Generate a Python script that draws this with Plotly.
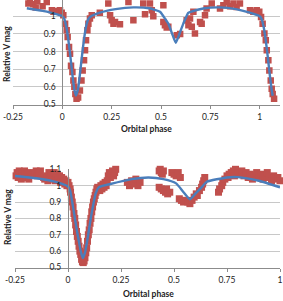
import plotly.graph_objects as go

# ---------------- data ----------------
x_ticks = [-0.25, 0, 0.25, 0.5, 0.75, 1]
x_tick_labels = ["-0.25", "0", "0.25", "0.5", "0.75", "1"]
y_ticks = [0.5, 0.6, 0.7, 0.8, 0.9, 1.0, 1.1]
y_tick_labels = ["0.5", "0.6", "0.7", "0.8", "0.9", "1", "1.1"]

# top panel observations
top_obs_x = [-0.172, -0.164, -0.147, -0.135, -0.127, -0.100, -0.079, -0.053, -0.045, -0.028,
             -0.012, -0.003, 0.005, 0.014, 0.022, 0.027, 0.034, 0.039, 0.044, 0.051,
             0.056, 0.061, 0.066, 0.072, 0.080, 0.089, 0.097, 0.103, 0.110, 0.115,
             0.120, 0.127, 0.132, 0.140, 0.149, 0.190, 0.233, 0.242, 0.250, 0.259,
             0.267, 0.292, 0.335, 0.360, 0.410, 0.419, 0.444, 0.453, 0.461, 0.512,
             0.512, 0.520, 0.529, 0.537, 0.580, 0.597, 0.630, 0.639, 0.647, 0.656,
             0.664, 0.672, 0.698, 0.706, 0.723, 0.731, 0.757, 0.799, 0.816, 0.833,
             0.850, 0.867, 0.883, 0.900, 0.951, 0.968, 0.985, 0.998, 1.007, 1.015,
             1.024, 1.031, 1.036, 1.044, 1.049, 1.056, 1.061, 1.066, 1.073]
top_obs_y = [1.072, 1.081, 1.068, 1.049, 1.085, 1.057, 1.080, 1.034, 1.025, 1.030,
             1.034, 1.020, 1.006, 0.958, 0.920, 0.883, 0.826, 0.788, 0.720, 0.684,
             0.636, 0.600, 0.560, 0.532, 0.540, 0.580, 0.636, 0.693, 0.750, 0.807,
             0.864, 0.920, 0.958, 0.987, 1.006, 1.020, 1.072, 1.006, 0.977, 0.958,
             0.968, 0.955, 1.081, 0.977, 1.072, 1.011, 1.072, 1.034, 1.000, 1.062,
             0.968, 0.949, 0.936, 0.940, 0.892, 0.900, 0.977, 0.949, 0.987, 0.940,
             1.025, 0.902, 0.968, 0.958, 1.006, 1.044, 1.072, 1.044, 1.062, 1.081,
             1.057, 1.072, 1.053, 1.072, 1.034, 1.025, 1.034, 1.025, 0.996, 0.958,
             0.902, 0.864, 0.807, 0.750, 0.693, 0.636, 0.589, 0.560, 0.532]

# top panel model
top_mod_x = [-0.18, -0.10, -0.03, 0.00, 0.01, 0.02, 0.03, 0.04, 0.05, 0.06, 0.069, 0.08,
             0.09, 0.10, 0.11, 0.12, 0.13, 0.14, 0.19, 0.27, 0.36, 0.44, 0.495, 0.515,
             0.537, 0.56, 0.575, 0.59, 0.613, 0.638, 0.65, 0.72, 0.80, 0.88, 0.95, 1.00,
             1.01, 1.02, 1.03, 1.04, 1.05, 1.06, 1.066]
top_mod_y = [1.045, 1.03, 1.012, 1.0, 0.985, 0.94, 0.87, 0.78, 0.68, 0.59, 0.55, 0.59,
             0.68, 0.78, 0.87, 0.94, 0.98, 0.995, 1.02, 1.04, 1.05, 1.045, 1.025, 0.995,
             0.958, 0.89, 0.85, 0.89, 0.958, 1.019, 1.025, 1.045, 1.05, 1.04, 1.02, 1.0,
             0.985, 0.94, 0.87, 0.78, 0.68, 0.59, 0.55]

# bottom panel observations
bot_obs_x = [-0.245, -0.24, -0.235, -0.23, -0.225, -0.22, -0.215, -0.21, -0.205, -0.20,
             -0.195, -0.19, -0.185,
             -0.16, -0.155, -0.15, -0.145, -0.14, -0.135, -0.13,
             -0.115, -0.11, -0.10, -0.095, -0.09, -0.085, -0.08, -0.075, -0.07, -0.065,
             -0.06, -0.055, -0.05, -0.045, -0.04, -0.035, -0.03, -0.025, -0.02, -0.015,
             -0.01, -0.005, 0.0, 0.005, 0.01,
             0.012, 0.016, 0.02, 0.024, 0.028, 0.032, 0.036, 0.04, 0.044, 0.048,
             0.052, 0.056, 0.06, 0.064, 0.068, 0.072, 0.076, 0.08, 0.084, 0.088,
             0.092, 0.096, 0.10, 0.104, 0.108, 0.112, 0.116, 0.12, 0.124, 0.128,
             0.132, 0.136,
             0.14, 0.15, 0.155, 0.16, 0.165, 0.17, 0.175, 0.18, 0.185,
             0.19, 0.195, 0.20, 0.205, 0.21, 0.215, 0.22, 0.225,
             0.28, 0.29, 0.30, 0.31, 0.32, 0.33, 0.34,
             0.43, 0.435, 0.44, 0.445, 0.45,
             0.43, 0.44, 0.45, 0.46, 0.465, 0.47, 0.48,
             0.49, 0.50, 0.51, 0.52, 0.53,
             0.525, 0.535, 0.545, 0.555, 0.565, 0.575, 0.585,
             0.595, 0.605, 0.61, 0.62, 0.63, 0.635, 0.64, 0.645,
             0.71, 0.715,
             0.725, 0.73, 0.74, 0.75, 0.755, 0.76, 0.77, 0.78, 0.785, 0.79, 0.80, 0.81,
             0.82, 0.83, 0.84, 0.85, 0.86, 0.87, 0.88, 0.89, 0.90, 0.91, 0.92, 0.93,
             0.94, 0.95, 0.96, 0.97, 0.98, 0.99, 1.0]
bot_obs_y = [1.06, 1.08, 1.05, 1.09, 1.07, 1.04, 1.08, 1.06, 1.09, 1.05,
             1.07, 1.08, 1.04,
             1.08, 1.07, 1.09, 1.06, 1.08, 1.07, 1.09,
             1.05, 1.04, 1.06, 1.03, 1.08, 1.05, 1.07, 1.04, 1.06, 1.08,
             1.03, 1.05, 1.07, 1.04, 1.06, 1.02, 1.05, 1.03, 1.04, 1.01,
             1.03, 1.00, 1.02, 1.00, 0.98,
             0.96, 0.93, 0.90, 0.87, 0.83, 0.80, 0.76, 0.72, 0.69, 0.66,
             0.63, 0.60, 0.58, 0.55, 0.535, 0.53, 0.54, 0.56, 0.59, 0.62,
             0.66, 0.70, 0.73, 0.77, 0.80, 0.84, 0.87, 0.90, 0.92, 0.94,
             0.96, 0.98,
             0.99, 0.97, 1.00, 0.98, 1.01, 0.99, 1.02, 1.00, 1.03,
             1.06, 1.08, 1.05, 1.07, 1.09, 1.06, 1.08, 1.10,
             1.02, 1.00, 1.03, 1.01, 1.04, 1.00, 1.02,
             1.09, 1.10, 1.08, 1.07, 1.09,
             0.99, 0.98, 0.97, 0.96, 0.98, 0.95, 0.96,
             1.08, 1.07, 1.06, 1.08, 1.05,
             0.92, 0.91, 0.90, 0.91, 0.90, 0.89, 0.91,
             0.93, 0.95, 0.94, 0.97, 0.99, 1.01, 1.03, 1.05,
             0.96, 0.98,
             1.00, 1.02, 1.04, 1.06, 1.05, 1.07, 1.08, 1.09, 1.06, 1.10, 1.08, 1.07,
             1.09, 1.06, 1.08, 1.05, 1.07, 1.04, 1.06, 1.08, 1.05, 1.07, 1.04, 1.06,
             1.08, 1.05, 1.03, 1.06, 1.04, 1.05, 1.03]

# bottom panel model
bot_mod_x = [-0.25, -0.15, -0.05, 0.0, 0.01, 0.02, 0.03, 0.04, 0.05, 0.06, 0.07, 0.08,
             0.09, 0.10, 0.11, 0.12, 0.13, 0.145, 0.20, 0.30, 0.38, 0.45, 0.51, 0.545,
             0.575, 0.60, 0.63, 0.655, 0.75, 0.80, 0.90, 1.0]
bot_mod_y = [1.059, 1.045, 1.02, 0.995, 0.97, 0.90, 0.82, 0.74, 0.67, 0.60, 0.557, 0.59,
             0.66, 0.74, 0.82, 0.89, 0.95, 0.99, 1.01, 1.04, 1.05, 1.04, 1.014, 0.96,
             0.917, 0.95, 0.99, 1.024, 1.05, 1.052, 1.03, 0.99]

# ---------------- style ----------------
W, H = 283, 301
RED = "#C0504D"
BLUE = "#4A7EBB"
GRID = "#C8C8C8"
AXIS = "#8C8C8C"
FONT = "Lato"

top_xr = [-0.25, 1.103]
bot_xr = [-0.25, 1.0]
top_xd = [13 / W, 280 / W]
bot_xd = [15 / W, 280 / W]
top_yd = [(H - 104.5) / H, 1.0]
bot_yd = [(H - 267.5) / H, (H - 169.3) / H]


def pos_of_zero(dom, rng):
    return dom[0] + (dom[1] - dom[0]) * (0 - rng[0]) / (rng[1] - rng[0])


fig = go.Figure()
fig.add_trace(go.Scatter(x=top_obs_x, y=top_obs_y, mode="markers", xaxis="x", yaxis="y",
                         marker=dict(symbol="square", size=6.5, color=RED), cliponaxis=True))
fig.add_trace(go.Scatter(x=top_mod_x, y=top_mod_y, mode="lines", xaxis="x", yaxis="y",
                         line=dict(color=BLUE, width=2.4, shape="spline", smoothing=0.5)))
fig.add_trace(go.Scatter(x=bot_obs_x, y=bot_obs_y, mode="markers", xaxis="x2", yaxis="y2",
                         marker=dict(symbol="square", size=7, color=RED), cliponaxis=False))
fig.add_trace(go.Scatter(x=bot_mod_x, y=bot_mod_y, mode="lines", xaxis="x2", yaxis="y2",
                         line=dict(color=BLUE, width=2.4, shape="spline", smoothing=0.5)))

tickfont = dict(family=FONT, size=8.5, color="#222222")
xcommon = dict(tickvals=x_ticks, ticktext=x_tick_labels, showgrid=False, zeroline=False,
               showline=True, linecolor=AXIS, linewidth=1, ticks="outside", ticklen=3,
               tickcolor=AXIS, tickfont=tickfont, automargin=False, ticklabelstandoff=1)
ycommon = dict(tickvals=y_ticks, ticktext=y_tick_labels, showgrid=True, gridcolor=GRID,
               gridwidth=1, zeroline=False, showline=True, linecolor=AXIS, linewidth=1,
               ticks="", tickfont=tickfont, anchor="free", automargin=False,
               ticklabelstandoff=5)

fig.update_layout(
    width=W, height=H, margin=dict(l=0, r=0, t=0, b=0),
    paper_bgcolor="white", plot_bgcolor="white", showlegend=False,
    xaxis=dict(domain=top_xd, range=top_xr, anchor="y", **xcommon),
    yaxis=dict(domain=top_yd, range=[0.5, 1.092],
               position=pos_of_zero(top_xd, top_xr), **ycommon),
    xaxis2=dict(domain=bot_xd, range=bot_xr, anchor="y2", **xcommon),
    yaxis2=dict(domain=bot_yd, range=[0.5, 1.1],
                position=pos_of_zero(bot_xd, bot_xr), **ycommon),
)

title_font = dict(family=FONT, size=8.5, color="#222222")
for txt, cx, cy, ang in [("<b>Orbital phase</b>", 146, 129, 0),
                         ("<b>Relative V mag</b>", 7, 54, -90),
                         ("<b>Orbital phase</b>", 148, 293.5, 0),
                         ("<b>Relative V mag</b>", 8, 217, -90)]:
    fig.add_annotation(text=txt, x=cx / W, y=(H - cy) / H, xref="paper", yref="paper",
                       xanchor="center", yanchor="middle", showarrow=False,
                       textangle=ang, font=title_font)

fig.write_html("out.html")
